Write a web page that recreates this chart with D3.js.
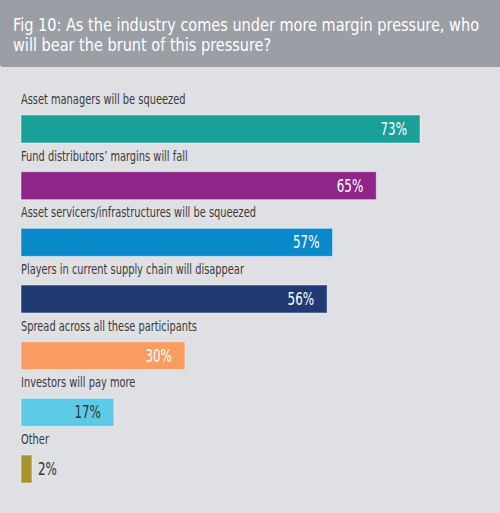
<!DOCTYPE html>
<html lang="en">
<head>
    <meta charset="utf-8">
    <title>Fig 10</title>
    <script src="https://cdn.jsdelivr.net/npm/d3@7"></script>
    <style>
        body { margin: 0; background: #dfe0e4; }
        text { font-family: "DejaVu Sans Condensed", "DejaVu Sans", sans-serif; font-stretch: condensed; }
    </style>
</head>
<body>
<script>
    // survey answers, % of respondents
    var categories = [
        "Asset managers will be squeezed",
        "Fund distributors\u2019 margins will fall",
        "Asset servicers/infrastructures will be squeezed",
        "Players in current supply chain will disappear",
        "Spread across all these participants",
        "Investors will pay more",
        "Other"
    ];
    var values = [73, 65, 57, 56, 30, 17, 2];
    var colors = ["#19a099", "#8e2689", "#0a89ca", "#213a73", "#f99c62", "#5ccbe8", "#a8932b"];
    var titleLines = [
        "Fig 10: As the industry comes under more margin pressure, who",
        "will bear the brunt of this pressure?"
    ];

    var w = 500, h = 513;

    // the original face is narrower than DejaVu condensed, so squeeze texts a bit
    function squeeze(sel, k) {
        sel.each(function() {
            var len = this.getComputedTextLength();
            d3.select(this)
                .attr("textLength", len * k)
                .attr("lengthAdjust", "spacingAndGlyphs");
        });
    }

    var svg = d3.select("body").append("svg")
        .attr("width", w)
        .attr("height", h);

    svg.append("rect")
        .attr("width", w).attr("height", h)
        .attr("fill", "#dfe0e4");

    // title band
    svg.append("path")
        .attr("d", "M0,0H500V67H3Q0,67 0,64Z")
        .attr("fill", "#9b9ea5");

    var title = svg.selectAll("text.title")
        .data(titleLines)
        .enter()
        .append("text")
        .attr("class", "title")
        .attr("x", 13)
        .attr("y", function(d, i) { return 31 + i * 20; })
        .attr("fill", "white")
        .attr("font-size", "17.5px")
        .text(function(d) { return d; });
    // first line should run to about x=479
    var k = (w - 21 - 13) / title.node().getComputedTextLength();
    title.call(squeeze, Math.min(k, 1));

    var x = d3.scaleLinear().domain([0, 73]).range([21, 420]);
    var y = d3.scaleBand().domain(categories).range([115, 483]).paddingInner(0.506).paddingOuter(0);

    var rows = svg.selectAll("g.row")
        .data(categories)
        .enter()
        .append("g")
        .attr("class", "row");

    rows.append("text")
        .attr("x", 21)
        .attr("y", function(d) { return y(d) - 11; })
        .attr("fill", "#3a3a3a")
        .attr("font-size", "13.5px")
        .text(function(d) { return d; })
        .call(squeeze, 0.81);

    rows.append("rect")
        .attr("x", x(0))
        .attr("y", function(d) { return y(d); })
        .attr("width", function(d, i) { return x(values[i]) - x(0); })
        .attr("height", y.bandwidth())
        .attr("fill", function(d, i) { return colors[i]; })
        .attr("stroke", "rgba(255,255,255,0.45)")
        .attr("stroke-width", 1);

    rows.append("text")
        .attr("x", function(d, i) {
            return values[i] < 10 ? x(values[i]) + 6 : x(values[i]) - 13;
        })
        .attr("y", function(d) { return y(d) + y.bandwidth() / 2; })
        .attr("dy", "0.36em")
        .attr("text-anchor", function(d, i) { return values[i] < 10 ? "start" : "end"; })
        .attr("fill", function(d, i) {
            return (values[i] < 10 || colors[i] == "#5ccbe8") ? "#333" : "white";
        })
        .attr("font-size", "17px")
        .text(function(d, i) { return values[i] + "%"; })
        .call(squeeze, 0.78);
</script>
</body>
</html>
